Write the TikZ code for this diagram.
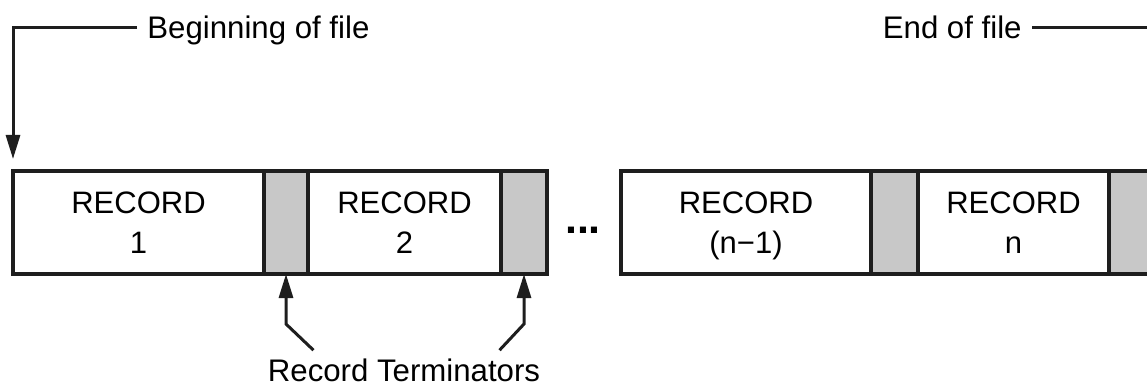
\documentclass[tikz,border=0pt]{standalone}
\usepackage{fontspec}
\setmainfont{Liberation Sans}
\usetikzlibrary{positioning,arrows.meta}
\definecolor{termgray}{RGB}{200,200,200}
\definecolor{inkblack}{RGB}{30,30,30}
\tikzset{
  record/.style={
    draw=inkblack,
    line width=1.8pt,
    minimum height=51.5pt,
    inner sep=0pt,
    outer sep=0pt,
    align=center,
    text depth=0pt,
    font=\fontsize{15.5}{20}\selectfont,
  },
  terminator/.style={
    record,
    fill=termgray,
  },
  filelabel/.style={
    font=\fontsize{15.6}{19}\selectfont,
    text height=11.2pt,
    text depth=0pt,
    inner xsep=5pt,
    inner ysep=0pt,
  },
  pointer/.style={
    draw=inkblack,
    line width=1.5pt,
    -{Triangle[length=12pt,width=7pt]},
  }
}

\begin{document}
\begin{tikzpicture}[x=0.5pt, y=-0.5pt]
  \clip (0, 0) rectangle (1147, 385);

  \node[record, minimum width=125.5pt, anchor=west] (rec1) at (13, 222.5) {RECORD\\1};
  \node[terminator, minimum width=22pt, right=0pt of rec1] (term1) {};
  \node[record, minimum width=96.5pt, right=0pt of term1] (rec2) {RECORD\\2};
  \node[terminator, minimum width=23pt, right=0pt of rec2] (term2) {};

  \node[font=\bfseries\fontsize{21.5}{21.5}\selectfont, inner sep=0pt, anchor=base] (dots) at (583, 234) {...};

  \node[record, minimum width=125pt, anchor=west] (recm) at (621, 222.5) {RECORD\\(n−1)};
  \node[terminator, minimum width=23.5pt, right=0pt of recm] (term3) {};
  \node[record, minimum width=95.5pt, right=0pt of term3] (recn) {RECORD\\n};
  \node[terminator, minimum width=23pt, right=0pt of recn] (term4) {};

  \node[filelabel, anchor=base west] (bof) at (137, 39) {Beginning of file};
  \node[filelabel, anchor=base east] (eof) at (1032, 39) {End of file};
  \node[filelabel, inner xsep=0pt, inner ysep=4pt, anchor=base] (rt) at (404, 381) {Record Terminators};

  \draw[pointer, shorten >=6pt] (bof.west) -| (rec1.north west);
  \draw[pointer, shorten >=6pt] (eof.east) -| (term4.north east);
  \draw[pointer] ([xshift=23pt]rt.north west) -- ([yshift=-25pt]term1.south) -- (term1.south);
  \draw[pointer] ([xshift=-20.5pt]rt.north east) -- ([yshift=-25pt]term2.south) -- (term2.south);
\end{tikzpicture}
\end{document}
